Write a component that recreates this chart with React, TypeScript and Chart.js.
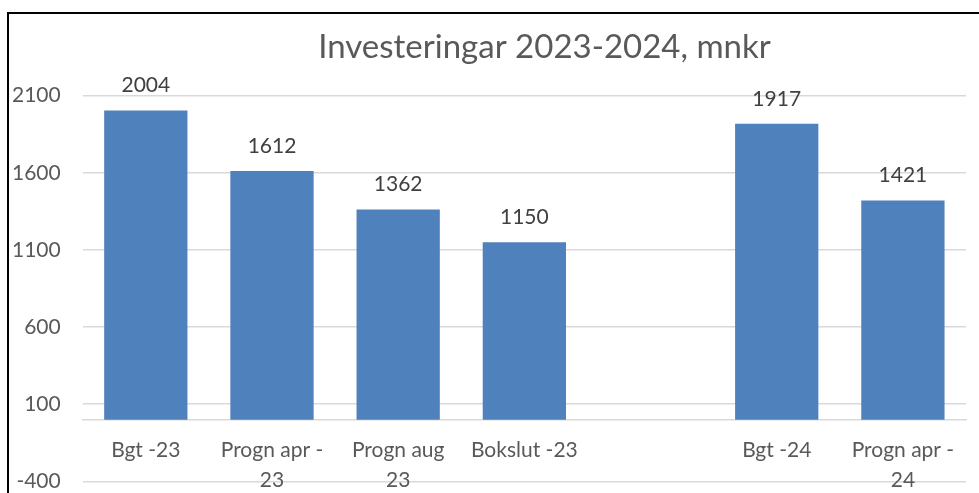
import React, { useEffect, useRef } from "react";
import { Chart, registerables } from "chart.js";

Chart.register(...registerables);

const TITLE = "Investeringar 2023-2024, mnkr";
const categories: (string | string[])[] = [
  "Bgt -23",
  ["Progn apr -", "23"],
  ["Progn aug", "23"],
  "Bokslut -23",
  "",
  "Bgt -24",
  ["Progn apr -", "24"],
];
const values: (number | null)[] = [2004, 1612, 1362, 1150, null, 1917, 1421];
const yMin = -400;
const yMax = 2100;
const yStep = 500;

const FONT = "Lato, 'Liberation Sans', sans-serif";
const BAR_COLOR = "#4f81bd";
const TEXT_COLOR = "#595959";
const GRID_COLOR = "#d9d9d9";

const valueLabels = {
  id: "valueLabels",
  afterDatasetsDraw(chart: any) {
    const ctx = chart.ctx;
    const meta = chart.getDatasetMeta(0);
    ctx.save();
    ctx.font = `21px ${FONT}`;
    ctx.fillStyle = "#404040";
    ctx.textAlign = "center";
    ctx.textBaseline = "alphabetic";
    meta.data.forEach((el: any, i: number) => {
      const v = values[i];
      if (v === null || v === undefined) return;
      ctx.fillText(String(v), el.x, el.y - 18);
    });
    ctx.restore();
  },
};

export default function App() {
  const ref = useRef<HTMLCanvasElement | null>(null);

  useEffect(() => {
    if (!ref.current) return;
    const chart = new Chart(ref.current, {
      type: "bar",
      data: {
        labels: categories,
        datasets: [
          {
            data: values,
            backgroundColor: BAR_COLOR,
            borderWidth: 0,
            barPercentage: 0.66,
            categoryPercentage: 1,
          },
        ],
      },
      options: {
        animation: false,
        responsive: false,
        maintainAspectRatio: false,
        layout: { padding: { left: 3, top: 0, right: 0, bottom: 0 } },
        plugins: {
          legend: { display: false },
          tooltip: { enabled: false },
          title: {
            display: true,
            text: TITLE,
            color: TEXT_COLOR,
            font: { family: FONT, size: 33, weight: "normal" },
            padding: { top: 14, bottom: 28 },
          },
        },
        scales: {
          x: {
            position: { y: 0 } as any,
            grid: { display: false, drawTicks: false },
            border: { display: true, color: GRID_COLOR, width: 1.5 },
            ticks: {
              color: TEXT_COLOR,
              font: { family: FONT, size: 21, lineHeight: 1.4 },
              padding: 16,
              autoSkip: false,
              maxRotation: 0,
              minRotation: 0,
            },
            afterFit: (s: any) => {
              s.paddingLeft = 0;
              s.paddingRight = 0;
            },
          } as any,
          y: {
            min: yMin,
            max: yMax,
            grid: { color: GRID_COLOR, lineWidth: 1.5, drawTicks: false },
            border: { display: false },
            ticks: {
              stepSize: yStep,
              color: TEXT_COLOR,
              font: { family: FONT, size: 21 },
              padding: 22,
              callback: (v: any) => String(v),
            },
            afterFit: (s: any) => {
              s.width = s.width - 22;
            },
          } as any,
          yPad: {
            position: "right",
            display: true,
            grid: { display: false, drawTicks: false },
            border: { display: false },
            ticks: { display: false },
            afterFit: (s: any) => {
              s.width = 111;
            },
          } as any,
        },
      },
      plugins: [valueLabels],
    });
    return () => chart.destroy();
  }, []);

  return (
    <div
      style={{
        position: "absolute",
        left: 0,
        top: 0,
        width: 979,
        height: 493,
        overflow: "hidden",
        background: "#fff",
      }}
    >
      <div
        style={{
          position: "absolute",
          left: 7,
          top: 12,
          width: 1100,
          height: 600,
          borderLeft: "2px solid #000",
          borderTop: "2px solid #000",
        }}
      >
        <canvas ref={ref} width={1068} height={502} style={{ display: "block" }} />
      </div>
    </div>
  );
}
